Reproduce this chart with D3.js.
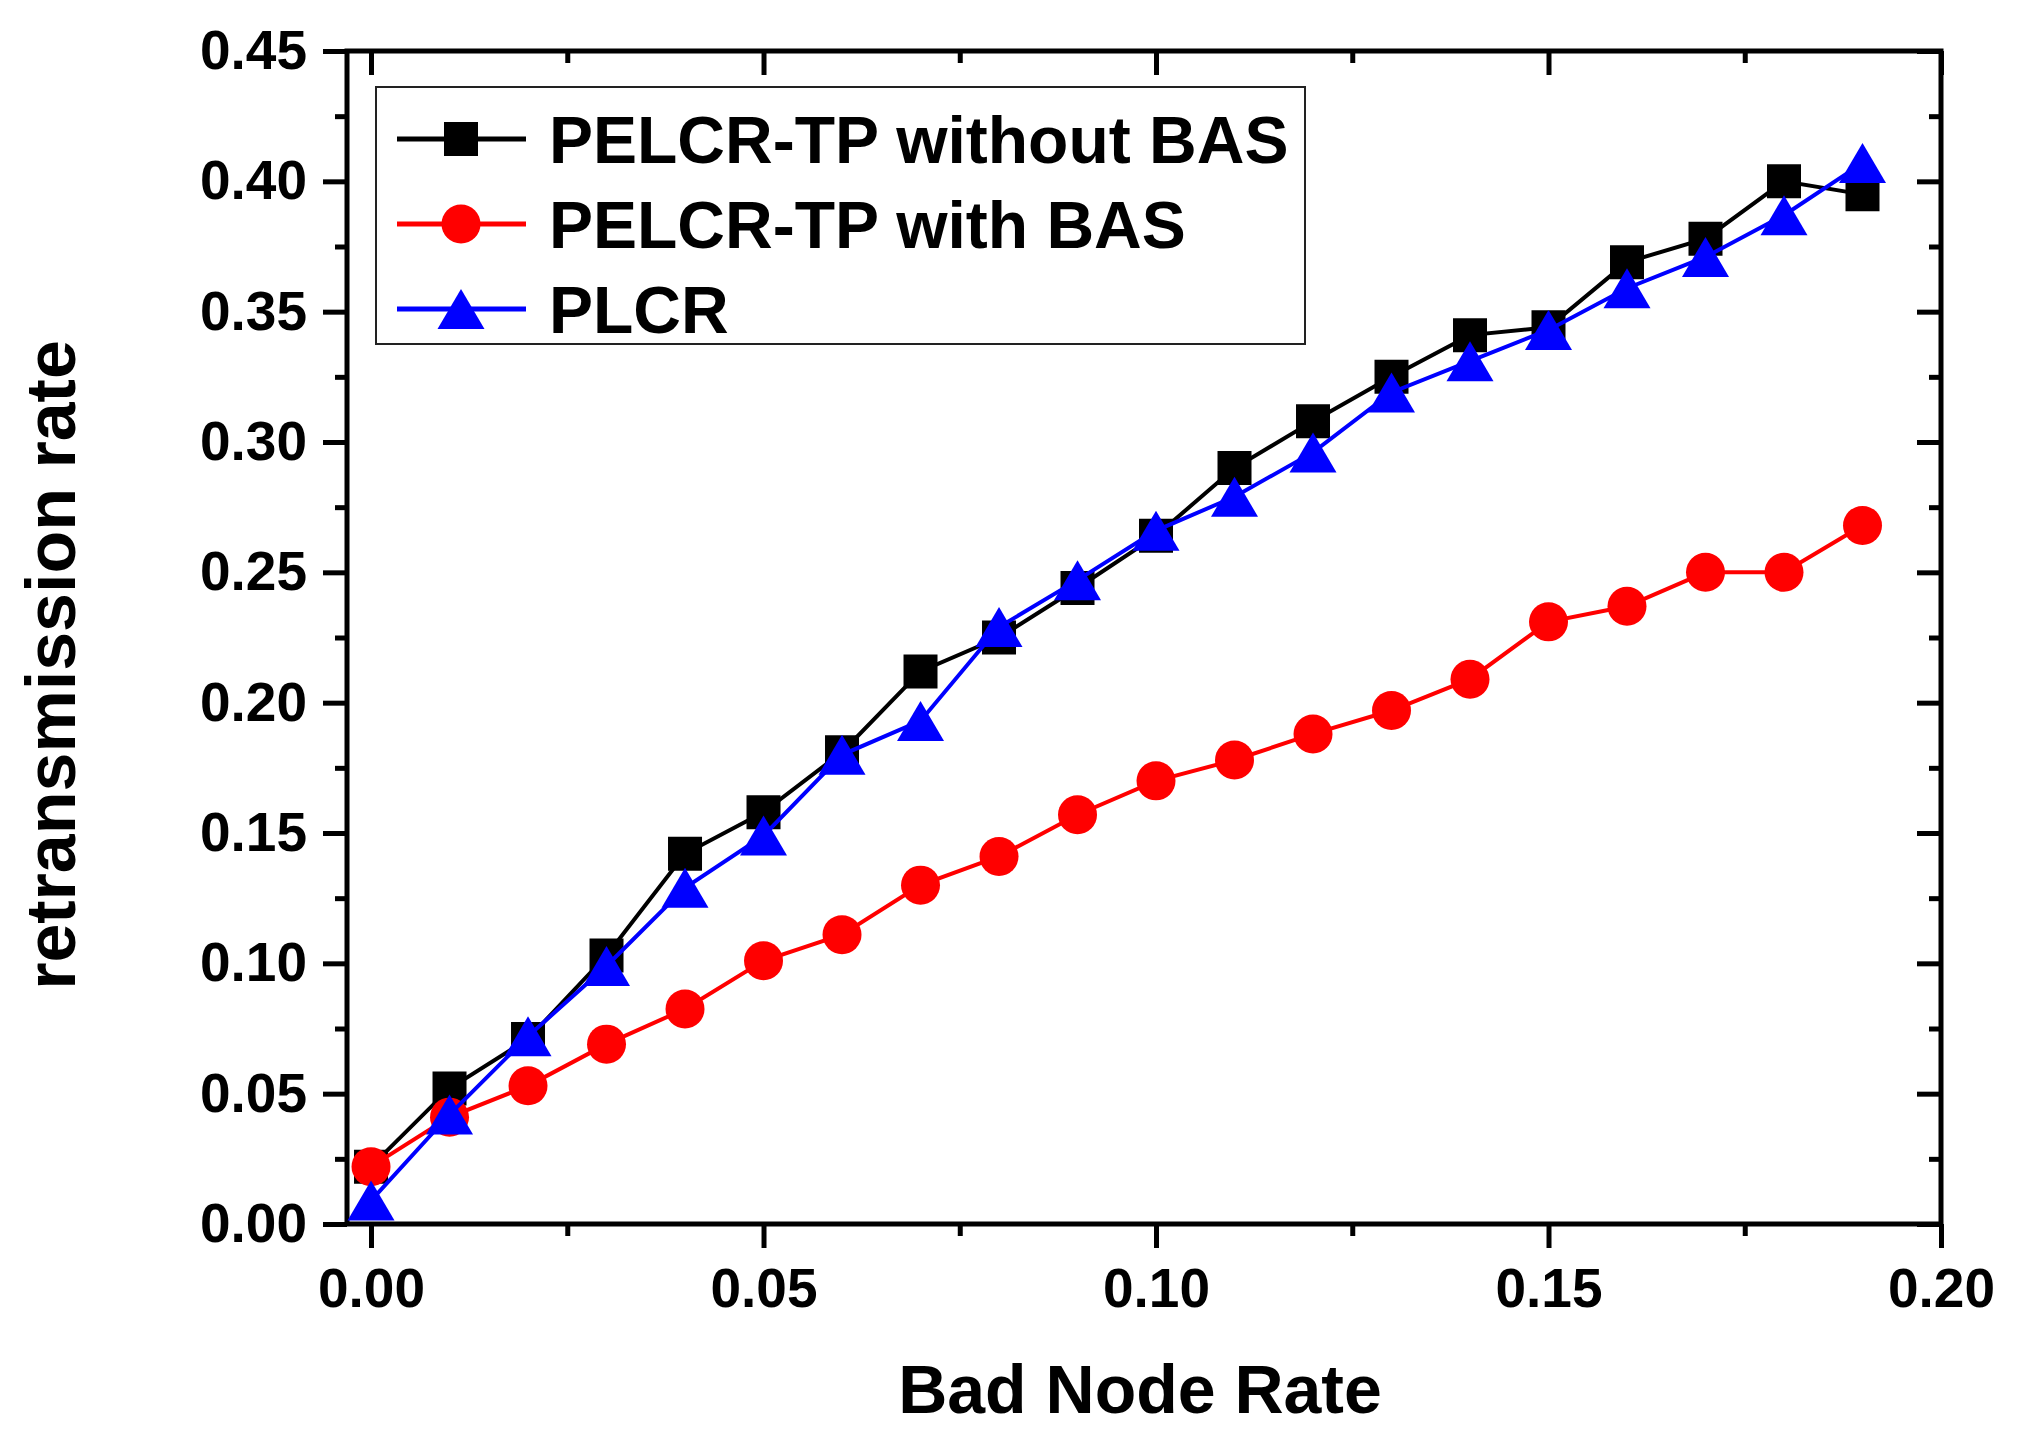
<!DOCTYPE html>
<html>
<head>
<meta charset="utf-8">
<script src="https://cdn.jsdelivr.net/npm/d3@7"></script>
<style>
	html, body { margin: 0; padding: 0; background: #fff; }
	text { font-family: "Liberation Sans", Arial, sans-serif; font-weight: bold; }
</style>
</head>
<body>
<div id="chart"></div>
<script>
	// данные
	var badNodeRate = [0.00, 0.01, 0.02, 0.03, 0.04, 0.05, 0.06, 0.07, 0.08, 0.09,
		0.10, 0.11, 0.12, 0.13, 0.14, 0.15, 0.16, 0.17, 0.18, 0.19];

	var withoutBAS = [0.022, 0.052, 0.071, 0.103, 0.142, 0.158, 0.181, 0.212, 0.225, 0.244,
		0.264, 0.290, 0.308, 0.325, 0.341, 0.344, 0.369, 0.378, 0.400, 0.395];
	var withBAS = [0.022, 0.041, 0.053, 0.069, 0.0825, 0.101, 0.111, 0.130, 0.141, 0.157,
		0.170, 0.178, 0.188, 0.197, 0.209, 0.231, 0.237, 0.250, 0.250, 0.268];
	var plcr = [0.009, 0.042, 0.072, 0.099, 0.129, 0.149, 0.180, 0.193, 0.229, 0.247,
		0.266, 0.279, 0.296, 0.319, 0.331, 0.343, 0.359, 0.371, 0.387, 0.407];

	var seriesNames = ['PELCR-TP without BAS', 'PELCR-TP with BAS', 'PLCR'];
	var seriesColors = ['#000000', '#ff0000', '#0000ff'];
	var seriesSymbols = ['square', 'circle', 'triangle'];

	var xTicks = [0.00, 0.05, 0.10, 0.15, 0.20];
	var xMinorTicks = [0.025, 0.075, 0.125, 0.175];
	var yTicks = [0.00, 0.05, 0.10, 0.15, 0.20, 0.25, 0.30, 0.35, 0.40, 0.45];
	var yMinorTicks = [0.025, 0.075, 0.125, 0.175, 0.225, 0.275, 0.325, 0.375, 0.425];

(function() {
	'use strict';

	var W = 2017, H = 1435;
	var pLeft = 347, pRight = 1941, pTop = 51, pBottom = 1224; // края поля графика

	var svg = d3.select('#chart').append('svg')
		.attr('width', W)
		.attr('height', H);

	var x = d3.scaleLinear().domain([-0.00306, 0.20]).range([pLeft, pRight]);
	var y = d3.scaleLinear().domain([0, 0.45]).range([pBottom, pTop]);

	var fmt = d3.format('.2f');

	function styleAxis(g, hideText)
	{
		g.select('.domain').remove();
		g.selectAll('line').attr('stroke', '#000').attr('stroke-width', 5);
		g.selectAll('text').attr('font-size', 55).attr('fill', '#000');
		if (hideText) g.selectAll('text').remove();
	}

	// нижняя ось
	svg.append('g').attr('transform', 'translate(0,' + pBottom + ')')
		.call(d3.axisBottom(x).tickValues(xTicks).tickFormat(fmt).tickSize(24).tickPadding(20))
		.call(function(g){ styleAxis(g, false); });
	svg.append('g').attr('transform', 'translate(0,' + pBottom + ')')
		.call(d3.axisBottom(x).tickValues(xMinorTicks).tickSize(12))
		.call(function(g){ styleAxis(g, true); });

	// верхняя ось (засечки внутрь)
	svg.append('g').attr('transform', 'translate(0,' + pTop + ')')
		.call(d3.axisBottom(x).tickValues(xTicks).tickSize(24))
		.call(function(g){ styleAxis(g, true); });
	svg.append('g').attr('transform', 'translate(0,' + pTop + ')')
		.call(d3.axisBottom(x).tickValues(xMinorTicks).tickSize(12))
		.call(function(g){ styleAxis(g, true); });

	// левая ось
	svg.append('g').attr('transform', 'translate(' + pLeft + ',0)')
		.call(d3.axisLeft(y).tickValues(yTicks).tickFormat(fmt).tickSize(24).tickPadding(16))
		.call(function(g){ styleAxis(g, false); });
	svg.append('g').attr('transform', 'translate(' + pLeft + ',0)')
		.call(d3.axisLeft(y).tickValues(yMinorTicks).tickSize(12))
		.call(function(g){ styleAxis(g, true); });

	// правая ось (засечки внутрь)
	svg.append('g').attr('transform', 'translate(' + pRight + ',0)')
		.call(d3.axisLeft(y).tickValues(yTicks).tickSize(24))
		.call(function(g){ styleAxis(g, true); });
	svg.append('g').attr('transform', 'translate(' + pRight + ',0)')
		.call(d3.axisLeft(y).tickValues(yMinorTicks).tickSize(12))
		.call(function(g){ styleAxis(g, true); });

	// рамка
	svg.append('rect')
		.attr('x', pLeft).attr('y', pTop)
		.attr('width', pRight - pLeft).attr('height', pBottom - pTop)
		.attr('fill', 'none')
		.attr('stroke', '#000')
		.attr('stroke-width', 5);

	// подписи осей
	svg.append('text')
		.attr('x', 1140)
		.attr('y', 1413)
		.attr('text-anchor', 'middle')
		.attr('font-size', 68)
		.text('Bad Node Rate');

	svg.append('text')
		.attr('transform', 'translate(75,665) rotate(-90)')
		.attr('text-anchor', 'middle')
		.attr('font-size', 70)
		.text('retransmission rate');

	function symbolPath(kind)
	{
		if (kind == 'square') return d3.symbol().type(d3.symbolSquare).size(34 * 34)();
		if (kind == 'circle') return d3.symbol().type(d3.symbolCircle).size(Math.PI * 19.5 * 19.5)();
		// треугольник по центру рамки
		return 'M0,-20L23.5,20L-23.5,20Z';
	}

	function DrawSeries(values, i)
	{
		var pts = badNodeRate.map(function(d, k){ return [d, values[k]]; });
		var line = d3.line()
			.x(function(d){ return x(d[0]); })
			.y(function(d){ return y(d[1]); });

		svg.append('path')
			.datum(pts)
			.attr('d', line)
			.attr('fill', 'none')
			.attr('stroke', seriesColors[i])
			.attr('stroke-width', 4);

		svg.append('g').selectAll('path')
			.data(pts)
			.enter().append('path')
			.attr('transform', function(d){ return 'translate(' + x(d[0]) + ',' + y(d[1]) + ')'; })
			.attr('d', symbolPath(seriesSymbols[i]))
			.attr('fill', seriesColors[i]);
	}

	DrawSeries(withoutBAS, 0);
	DrawSeries(withBAS, 1);
	DrawSeries(plcr, 2);

	// легенда
	var legend = svg.append('g');
	legend.append('rect')
		.attr('x', 376).attr('y', 87)
		.attr('width', 1305 - 376).attr('height', 344 - 87)
		.attr('fill', 'none')
		.attr('stroke', '#222')
		.attr('stroke-width', 2);

	var rowY = [139, 224, 309];
	for (var i = 0; i < seriesNames.length; i += 1)
	{
		legend.append('line')
			.attr('x1', 397).attr('x2', 526)
			.attr('y1', rowY[i]).attr('y2', rowY[i])
			.attr('stroke', seriesColors[i])
			.attr('stroke-width', 5);
		legend.append('path')
			.attr('transform', 'translate(461,' + rowY[i] + ')')
			.attr('d', symbolPath(seriesSymbols[i]))
			.attr('fill', seriesColors[i]);
		legend.append('text')
			.attr('x', 549)
			.attr('y', rowY[i])
			.attr('dy', '0.36em')
			.attr('font-size', 66)
			.text(seriesNames[i]);
	}
}());
</script>
</body>
</html>
